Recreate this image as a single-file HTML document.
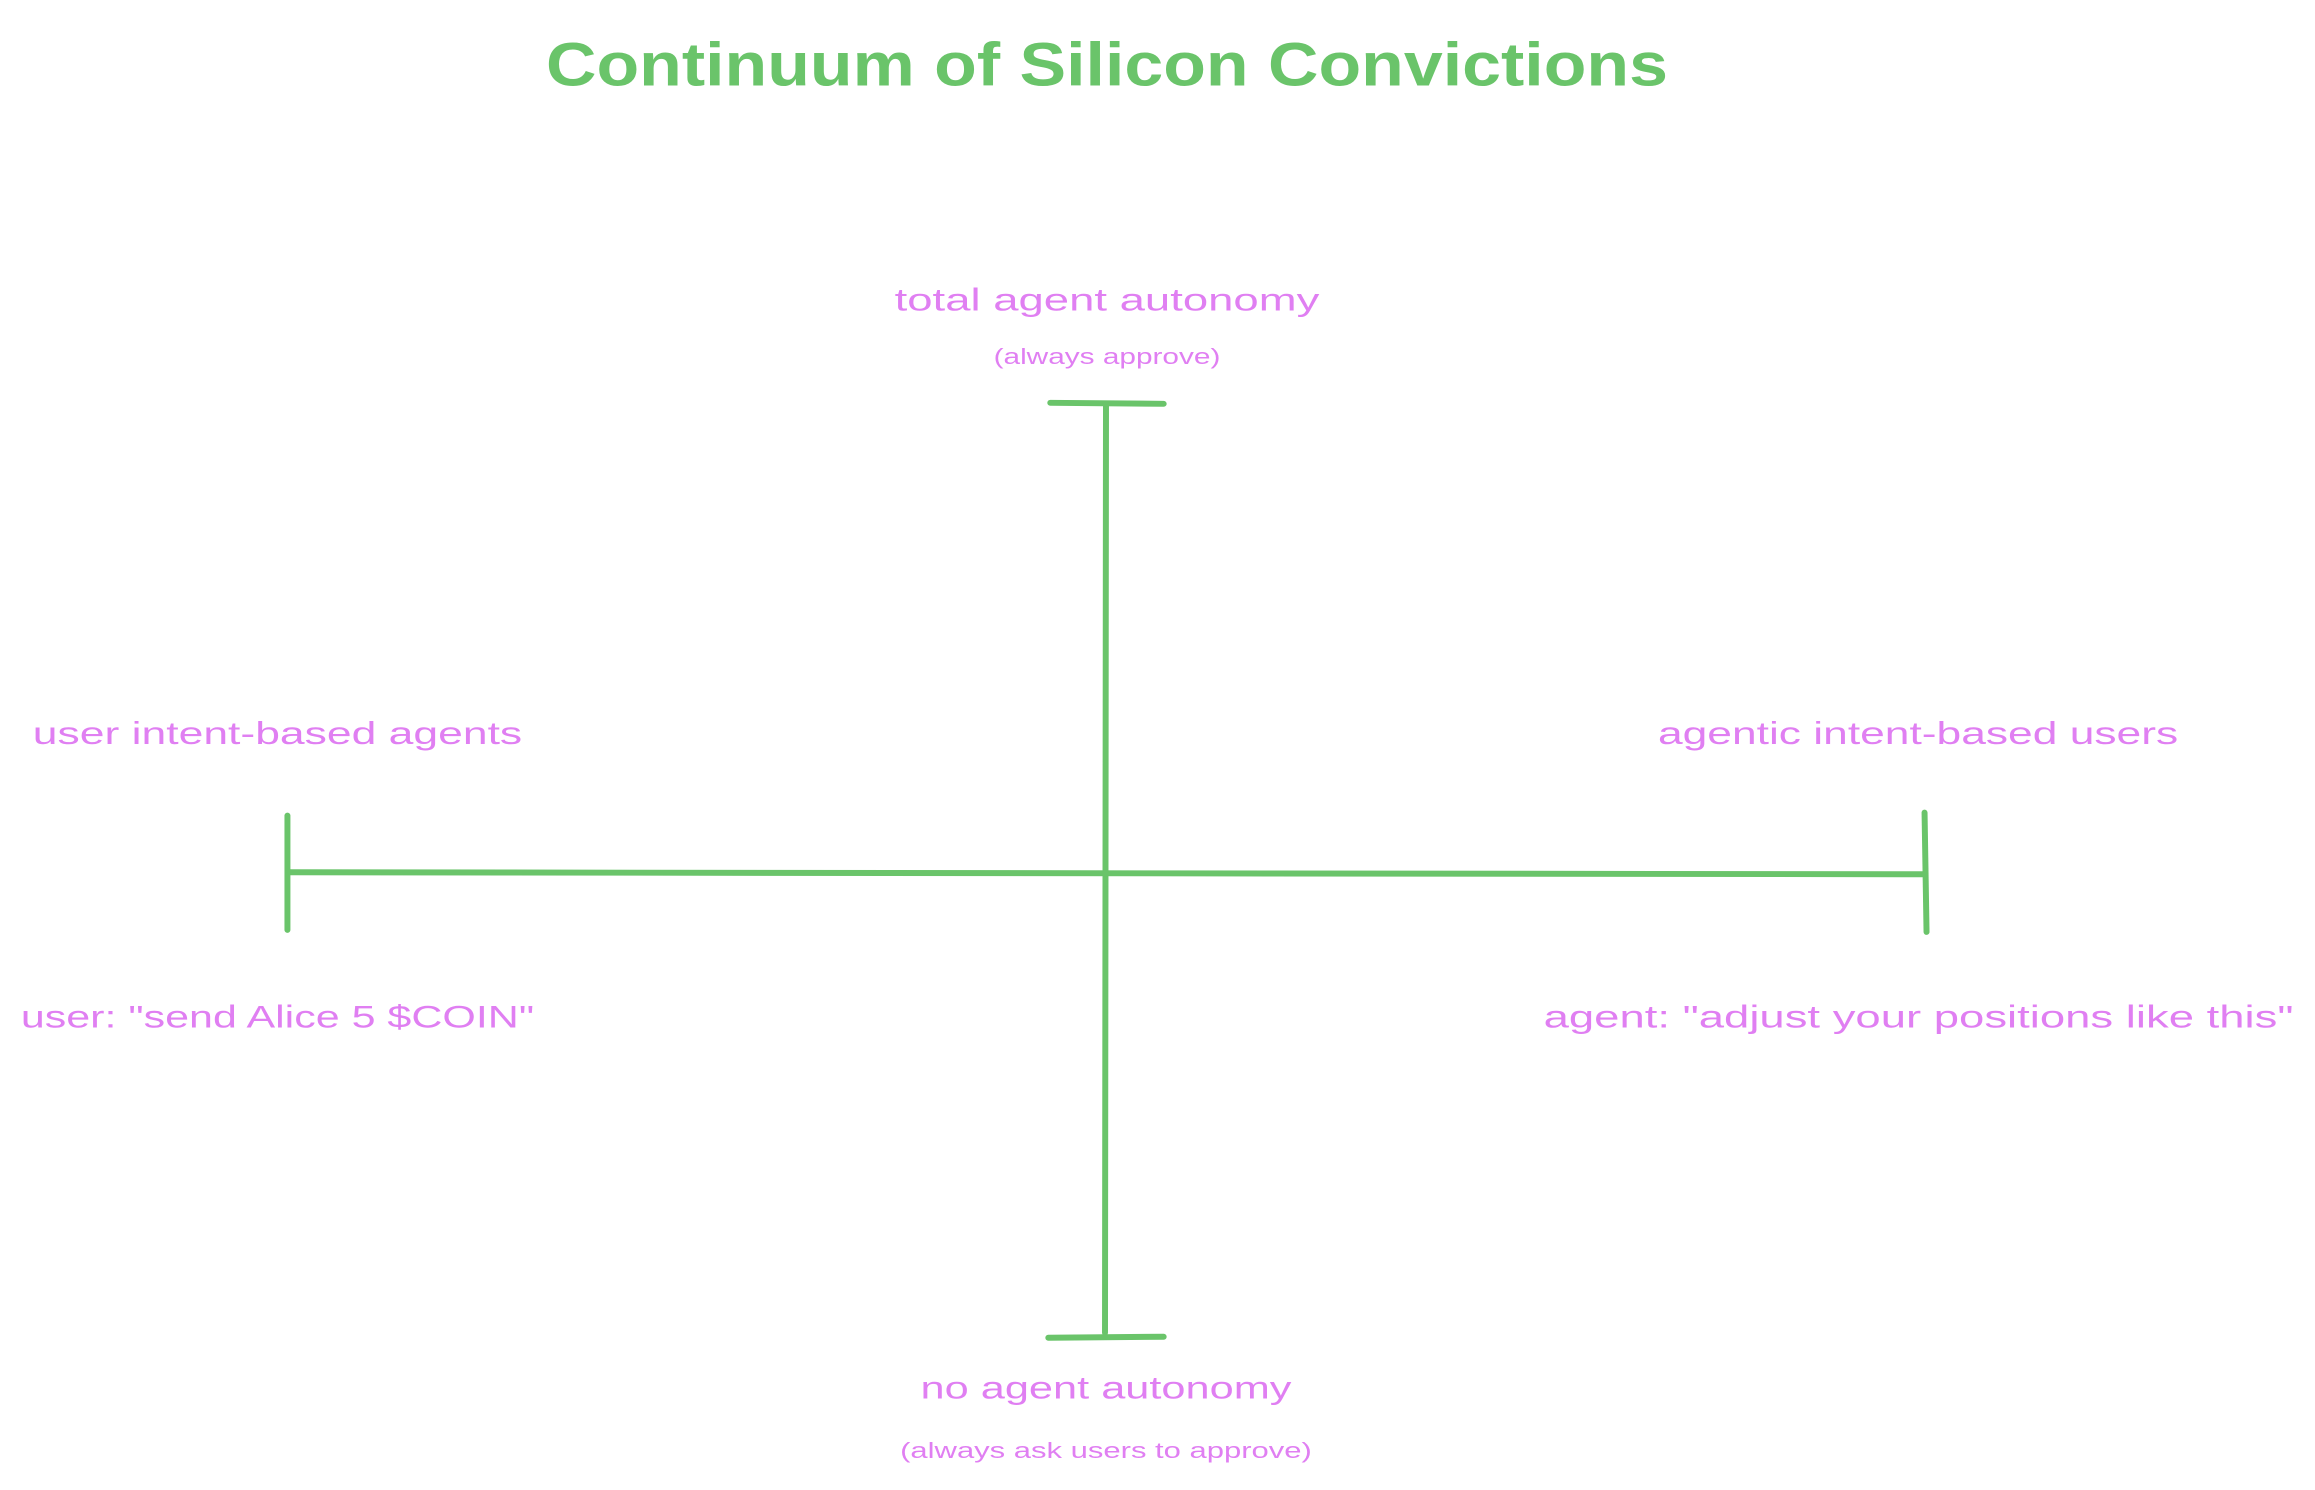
<!DOCTYPE html>
<html><head><style>
html,body{margin:0;padding:0;background:#fff;}
svg{display:block;}
text{font-family:"Liberation Sans",sans-serif;}
</style></head><body>
<svg width="2315" height="1490" viewBox="0 0 2315 1490" xmlns="http://www.w3.org/2000/svg">
<g transform="scale(0.9946)">
<g stroke="#6ac46a" stroke-width="6" stroke-linecap="round" fill="none">
<line x1="1112" y1="407" x2="1111" y2="1340"/>
<line x1="1056" y1="405" x2="1170" y2="406"/>
<line x1="1054" y1="1345" x2="1170" y2="1344"/>
<line x1="291" y1="877" x2="1934" y2="879"/>
<line x1="289" y1="820" x2="289" y2="935"/>
<line x1="1935" y1="817" x2="1937" y2="937"/>
</g>
<text x="1113" y="86" text-anchor="middle" font-size="62" font-weight="bold" fill="#6ac46a" textLength="1128" lengthAdjust="spacingAndGlyphs">Continuum of Silicon Convictions</text>
<g fill="#e07ff2">
<text x="1113" y="312" text-anchor="middle" font-size="32" textLength="427" lengthAdjust="spacingAndGlyphs">total agent autonomy</text>
<text x="1113" y="366" text-anchor="middle" font-size="22" textLength="228" lengthAdjust="spacingAndGlyphs">(always approve)</text>
<text x="33" y="748" font-size="32" textLength="492" lengthAdjust="spacingAndGlyphs">user intent-based agents</text>
<text x="1667" y="748" font-size="32" textLength="523" lengthAdjust="spacingAndGlyphs">agentic intent-based users</text>
<text x="21" y="1033" font-size="32" textLength="516" lengthAdjust="spacingAndGlyphs">user: "send Alice 5 $COIN"</text>
<text x="1552" y="1033" font-size="32" textLength="754" lengthAdjust="spacingAndGlyphs">agent: "adjust your positions like this"</text>
<text x="1112" y="1406" text-anchor="middle" font-size="32" textLength="373" lengthAdjust="spacingAndGlyphs">no agent autonomy</text>
<text x="1112" y="1466" text-anchor="middle" font-size="22" textLength="414" lengthAdjust="spacingAndGlyphs">(always ask users to approve)</text>
</g>
</g>
</svg>
</body></html>
